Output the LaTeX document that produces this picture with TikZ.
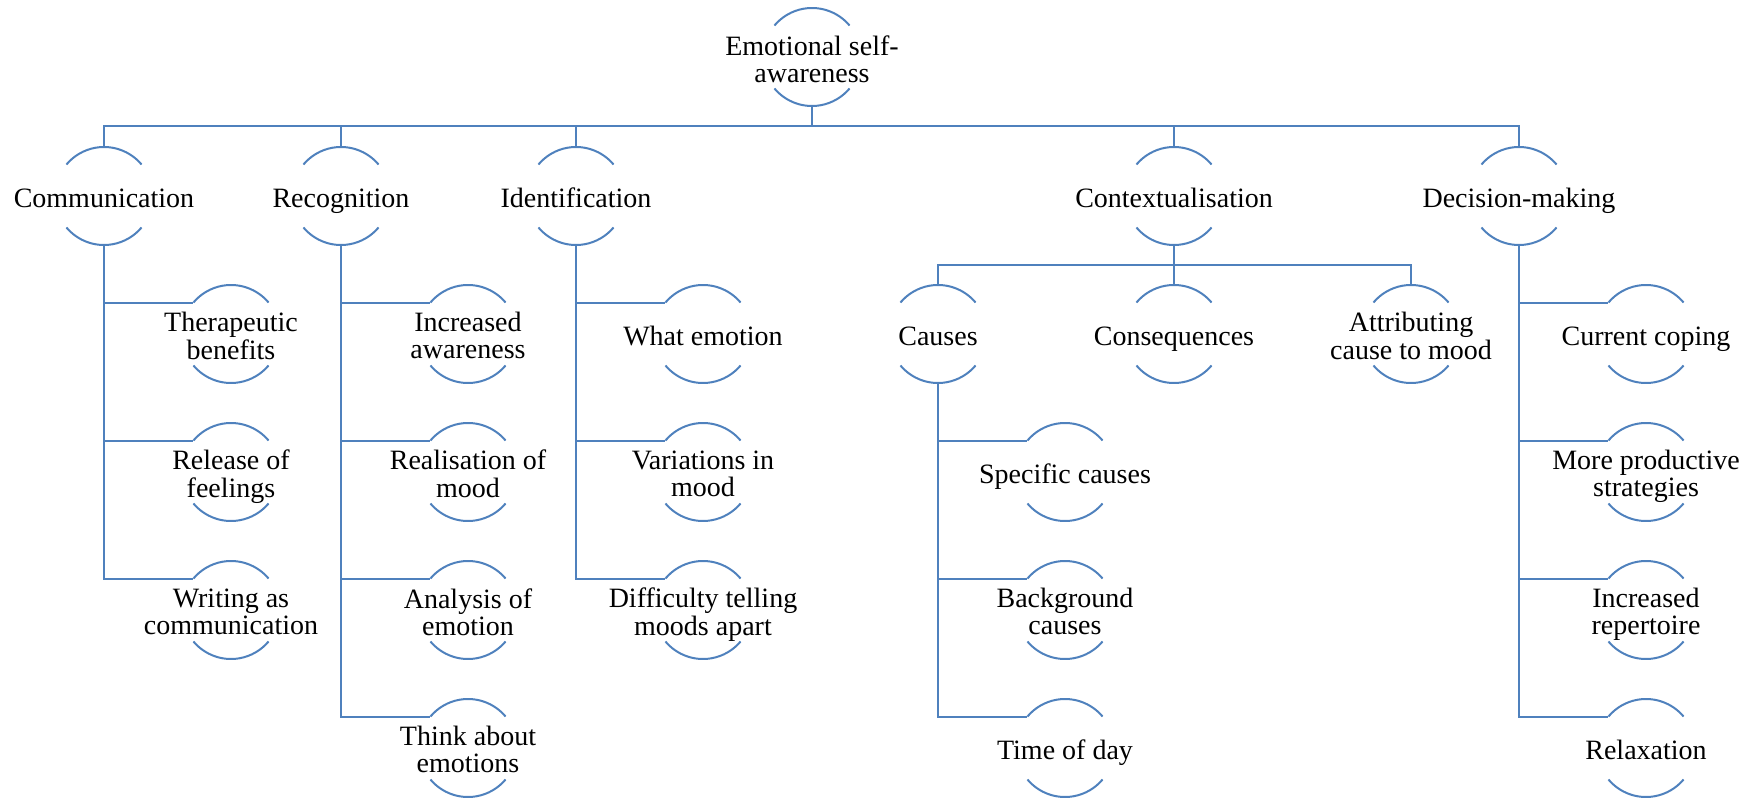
\documentclass[tikz,border=0pt]{standalone}
\usepackage{fontspec}
\setmainfont{Liberation Serif}
\definecolor{arcblue}{RGB}{79,129,189}
\newcommand\lbl[1]{\raisebox{-6.5pt}[0pt][0pt]{\makebox[0pt]{\begin{tabular}{@{}c@{}}#1\end{tabular}}}}
\tikzset{
  arcnode/.style={circle, minimum size=49pt, inner sep=0pt, outer sep=0pt,
    font=\fontsize{14pt}{13.5pt}\selectfont},
  conn/.style={draw=arcblue, line width=1pt},
}
\newcommand\arcs[1]{%
  \draw[conn] (#1.40) arc[start angle=40, end angle=140, radius=24.5pt];
  \draw[conn] (#1.220) arc[start angle=220, end angle=320, radius=24.5pt];}
\begin{document}
\begin{tikzpicture}[x=0.5pt, y=0.5pt]
\useasboundingbox (0,0) rectangle (1755,-802);
% root
\node[arcnode] (top) at (812,-57) {\lbl{Emotional self-\\awareness}};
% level 1
\node[arcnode] (comm)  at (104,-196)  {\lbl{Communication}};
\node[arcnode] (recog) at (341,-196)  {\lbl{Recognition}};
\node[arcnode] (ident) at (576,-196)  {\lbl{Identification}};
\node[arcnode] (ctx)   at (1174,-196) {\lbl{Contextualisation}};
\node[arcnode] (dec)   at (1519,-196) {\lbl{Decision-making}};
% communication children
\node[arcnode] (ther)  at (231,-334) {\lbl{Therapeutic\\benefits}};
\node[arcnode] (rel)   at (231,-472) {\lbl{Release of\\feelings}};
\node[arcnode] (wri)   at (231,-610) {\lbl{Writing as\\communication}};
% recognition children
\node[arcnode] (inc)   at (468,-334) {\lbl{Increased\\awareness}};
\node[arcnode] (real)  at (468,-472) {\lbl{Realisation of\\mood}};
\node[arcnode] (ana)   at (468,-610) {\lbl{Analysis of\\emotion}};
\node[arcnode] (think) at (468,-748) {\lbl{Think about\\emotions}};
% identification children
\node[arcnode] (what)  at (703,-334) {\lbl{What emotion}};
\node[arcnode] (var)   at (703,-472) {\lbl{Variations in\\mood}};
\node[arcnode] (diff)  at (703,-610) {\lbl{Difficulty telling\\moods apart}};
% contextualisation children
\node[arcnode] (cause) at (938,-334)  {\lbl{Causes}};
\node[arcnode] (cons)  at (1174,-334) {\lbl{Consequences}};
\node[arcnode] (attr)  at (1411,-334) {\lbl{Attributing\\cause to mood}};
\node[arcnode] (spec)  at (1065,-472) {\lbl{Specific causes}};
\node[arcnode] (back)  at (1065,-610) {\lbl{Background\\causes}};
\node[arcnode] (tod)   at (1065,-748) {\lbl{Time of day}};
% decision-making children
\node[arcnode] (cope)  at (1646,-334) {\lbl{Current coping}};
\node[arcnode] (more)  at (1646,-472) {\lbl{More productive\\strategies}};
\node[arcnode] (rep)   at (1646,-610) {\lbl{Increased\\repertoire}};
\node[arcnode] (relax) at (1646,-748) {\lbl{Relaxation}};
% arcs
\foreach \n in {top,comm,recog,ident,ctx,dec,ther,rel,wri,inc,real,ana,think,what,var,diff,cause,cons,attr,spec,back,tod,cope,more,rep,relax}{\arcs{\n}}
% connectors root -> level 1
\foreach \c in {comm,recog,ident,ctx,dec}{
  \draw[conn] (top.south) -- ++(0,-20) -| (\c.north);}
% contextualisation -> level 2
\foreach \c in {cause,cons,attr}{
  \draw[conn] (ctx.south) -- ++(0,-20.5) -| (\c.north);}
% vertical child lists
\foreach \c in {ther,rel,wri}{\draw[conn] (comm.south) |- (\c.140);}
\foreach \c in {inc,real,ana,think}{\draw[conn] (recog.south) |- (\c.140);}
\foreach \c in {what,var,diff}{\draw[conn] (ident.south) |- (\c.140);}
\foreach \c in {spec,back,tod}{\draw[conn] (cause.south) |- (\c.140);}
\foreach \c in {cope,more,rep,relax}{\draw[conn] (dec.south) |- (\c.140);}
\end{tikzpicture}
\end{document}
